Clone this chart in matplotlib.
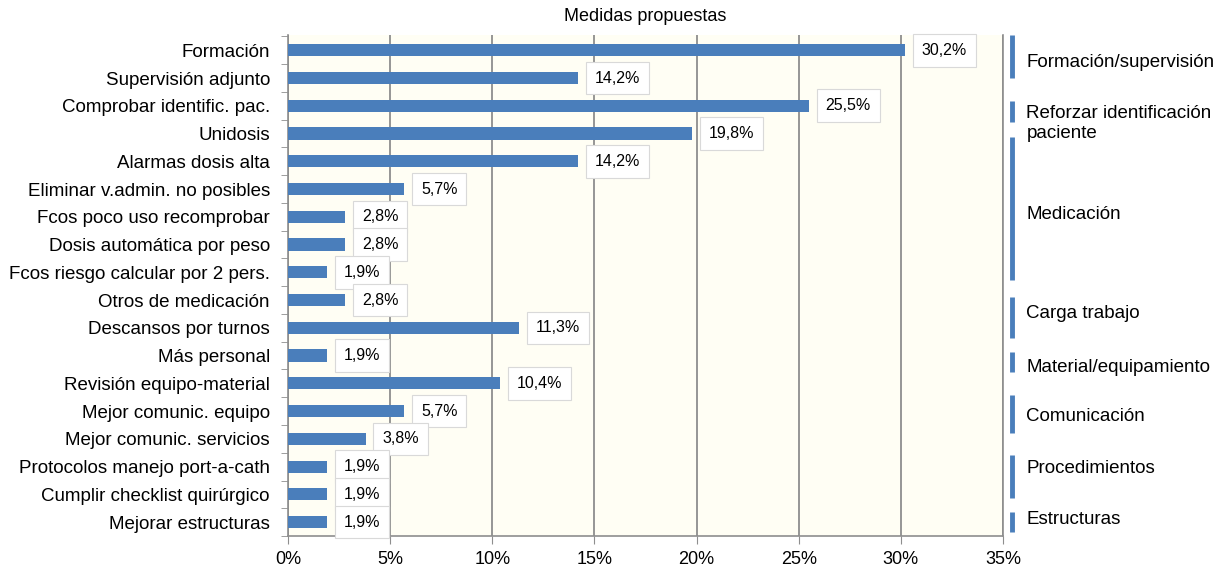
import numpy as np
import matplotlib
matplotlib.use('Agg')
import matplotlib.pyplot as plt
from matplotlib.ticker import FuncFormatter, FixedLocator

plt.rcParams['font.family'] = ['Liberation Sans', 'DejaVu Sans']

# datos
medidas = ['Formación', 'Supervisión adjunto', 'Comprobar identific. pac.', 'Unidosis',
           'Alarmas dosis alta', 'Eliminar v.admin. no posibles', 'Fcos poco uso recomprobar',
           'Dosis automática por peso', 'Fcos riesgo calcular por 2 pers.', 'Otros de medicación',
           'Descansos por turnos', 'Más personal', 'Revisión equipo-material',
           'Mejor comunic. equipo', 'Mejor comunic. servicios', 'Protocolos manejo port-a-cath',
           'Cumplir checklist quirúrgico', 'Mejorar estructuras']
porcentajes = [30.2, 14.2, 25.5, 19.8, 14.2, 5.7, 2.8, 2.8, 1.9, 2.8,
               11.3, 1.9, 10.4, 5.7, 3.8, 1.9, 1.9, 1.9]

# grupos: etiqueta, inicio y fin de la barra lateral (en filas), fila del texto
grupos = ['Formación/supervisión', 'Reforzar identificación\npaciente', 'Medicación',
          'Carga trabajo', 'Material/equipamiento', 'Comunicación', 'Procedimientos', 'Estructuras']
grupo_ini = [-0.54, 1.84, 3.14, 8.90, 10.88, 12.43, 14.59, 16.65]
grupo_fin = [1.01, 2.59, 8.29, 10.38, 11.60, 13.80, 16.14, 17.37]
grupo_txt = [0.43, 2.63, 5.9, 9.5, 11.42, 13.19, 15.06, 16.9]

azul = '#4a7ebb'
gris = '#8e8e8e'

fig = plt.figure(figsize=(12.15, 5.7), dpi=100)
ax = fig.add_axes([0.237, 0.0596, 0.5885, 0.879])
ax.set_facecolor('#fffef4')

y = np.arange(len(medidas))
ax.barh(y, porcentajes, height=0.44, color=azul, zorder=3)

for yi, v in zip(y, porcentajes):
    ax.annotate(f'{v:.1f}%'.replace('.', ','), xy=(v, yi), xytext=(12, 0),
                textcoords='offset points', va='center', ha='left', fontsize=11.5,
                zorder=4,
                bbox=dict(boxstyle='square,pad=0.55', fc='white', ec='#d9d9d9', lw=0.8))

ax.set_xlim(0, 35)
ax.set_ylim(17.5, -0.55)
ax.set_xticks(np.arange(0, 36, 5))
ax.xaxis.set_major_formatter(FuncFormatter(lambda v, p: f'{v:.0f}%'))
ax.set_yticks(y)
ax.set_yticklabels(medidas)
ax.yaxis.set_minor_locator(FixedLocator(np.arange(-0.5, 17.6, 1)))
ax.tick_params(axis='y', which='major', length=0, pad=13, labelsize=13.5)
ax.tick_params(axis='y', which='minor', length=5, color=gris)
ax.tick_params(axis='x', length=6, color=gris, pad=5, labelsize=13)
ax.grid(axis='x', color=gris, lw=1.3, zorder=1)
for s in ax.spines.values():
    s.set_color(gris)
    s.set_linewidth(1.2)
ax.spines['top'].set_visible(False)

ax.set_title('Medidas propuestas', fontsize=13, pad=10)

# barras laterales de grupo
for nombre, a, b, t in zip(grupos, grupo_ini, grupo_fin, grupo_txt):
    ax.plot([35.45, 35.45], [a, b], color=azul, lw=3.5, clip_on=False, solid_capstyle='butt')
    ax.text(36.15, t, nombre, va='center', ha='left', fontsize=13.5, linespacing=1.25,
            clip_on=False)

fig.savefig('out.png', dpi=100, facecolor='white')
